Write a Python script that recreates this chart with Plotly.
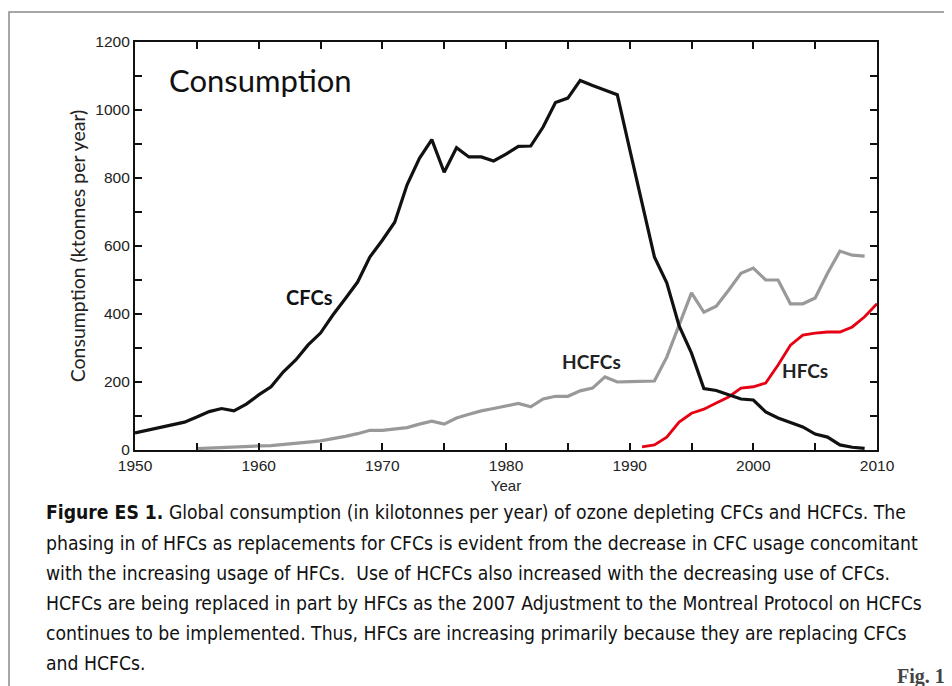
import plotly.graph_objects as go

cfc_years = list(range(1950, 2010))
cfc_values = [
    50, 58, 65, 75, 82, 97, 113, 122, 115, 135,
    162, 186, 230, 265, 309, 344, 397, 445, 494, 568,
    617, 670, 780, 858, 913, 817, 889, 862, 862, 850,
    870, 893, 894, 950, 1022, 1035, 1087, 1072, 1058, 1045,
    885, 725, 568, 492, 365, 285, 181, 175, 162, 150,
    147, 112, 94, 80, 68, 47, 38, 15, 8, 5,
]

hcfc_years = list(range(1955, 2010))
hcfc_values = [
    4, 6, 7, 8, 11,
    12, 13, 16, 18, 23, 27, 33, 40, 48, 58,
    58, 62, 66, 76, 85, 76, 94, 105, 115, 122,
    129, 137, 127, 150, 158, 158, 174, 182, 215, 200,
    201, 202, 203, 273, 365, 462, 405, 423, 470, 520,
    535, 500, 500, 430, 430, 447, 520, 585, 573, 570,
]

hfc_years = list(range(1991, 2011))
hfc_values = [
    9, 15, 38, 82, 108, 120, 138, 156, 182, 186,
    197, 250, 308, 338, 344, 347, 347, 362, 392, 430,
]

caption_lines = [
    "<b>Figure ES 1.</b> Global consumption (in kilotonnes per year) of ozone depleting CFCs and HCFCs. The",
    "phasing in of HFCs as replacements for CFCs is evident from the decrease in CFC usage concomitant",
    "with the increasing usage of HFCs.  Use of HCFCs also increased with the decreasing use of CFCs.",
    "HCFCs are being replaced in part by HFCs as the 2007 Adjustment to the Montreal Protocol on HCFCs",
    "continues to be implemented. Thus, HFCs are increasing primarily because they are replacing CFCs",
    "and HCFCs.",
]

NARROW = "Liberation Sans Narrow, Arial Narrow, DejaVu Sans Condensed, sans-serif"
TICKS = "Liberation Sans, Arial, sans-serif"
ROUND = "Lato, Open Sans, sans-serif"

# page puts the figure at (8, 8); reference plot area is x 135..877, y 42..450
OFF = 8
L, R, T, B = 135, 877, 42, 450
W, H = 952 - OFF, 686 - OFF


def px(x):
    return (x - L) / (R - L)


def py(y):
    return (B - y) / (B - T)


fig = go.Figure()
fig.add_trace(go.Scatter(x=hcfc_years, y=hcfc_values, mode="lines",
                         line=dict(color="#999999", width=3.2)))
fig.add_trace(go.Scatter(x=hfc_years, y=hfc_values, mode="lines",
                         line=dict(color="#e60012", width=2.8)))
fig.add_trace(go.Scatter(x=cfc_years, y=cfc_values, mode="lines",
                         line=dict(color="#111111", width=3.2)))

axis_common = dict(
    showline=True, linecolor="#111111", linewidth=2.2, mirror="ticks",
    ticks="inside", ticklen=7, tickwidth=1.5, tickcolor="#111111",
    showgrid=False, zeroline=False,
    tickfont=dict(family=TICKS, size=15.5, color="#222222"),
)

fig.update_xaxes(range=[1950, 2010], dtick=10, tick0=1950,
                 minor=dict(ticks="inside", dtick=5, ticklen=7, tickwidth=1.5,
                            tickcolor="#111111"),
                 title=dict(text="Year", font=dict(family=TICKS, size=15, color="#222222"),
                            standoff=8),
                 **axis_common)
fig.update_yaxes(range=[0, 1200], dtick=200, tick0=0,
                 minor=dict(ticks="inside", dtick=100, ticklen=7, tickwidth=1.5,
                            tickcolor="#111111"),
                 title=dict(text="Consumption (ktonnes per year)",
                            font=dict(family=ROUND, size=19.5, color="#222222"),
                            standoff=4),
                 **axis_common)

annotations = [
    dict(x=px(167), y=py(80), xref="paper", yref="paper", text="Consumption",
         showarrow=False, xanchor="left", yanchor="middle",
         font=dict(family=ROUND, size=31, color="#111111")),
    dict(x=1964.1, y=450, text="<b>CFCs</b>", showarrow=False,
         font=dict(family=ROUND, size=20, color="#111111")),
    dict(x=1986.9, y=259, text="<b>HCFCs</b>", showarrow=False,
         font=dict(family=ROUND, size=19, color="#222222")),
    dict(x=2004.2, y=235, text="<b>HFCs</b>", showarrow=False,
         font=dict(family=ROUND, size=19, color="#222222")),
    dict(x=px(947), y=py(676), xref="paper", yref="paper", text="<b>Fig. 1</b>",
         showarrow=False, xanchor="right", yanchor="middle",
         font=dict(family="Liberation Serif, serif", size=20, color="#444444")),
]
for i, line in enumerate(caption_lines):
    annotations.append(dict(
        x=px(44), y=py(513 + 30 * i), xref="paper", yref="paper", text=line,
        showarrow=False, xanchor="left", yanchor="middle",
        font=dict(family=NARROW, size=19.2, color="#111111")))

fig.update_layout(
    width=W, height=H,
    margin=dict(l=L - OFF, r=952 - R, t=T - OFF, b=686 - B),
    plot_bgcolor="white", paper_bgcolor="white",
    showlegend=False,
    annotations=annotations,
    shapes=[dict(type="path", xref="paper", yref="paper",
                 path=f"M {px(9)},{py(690)} L {px(9)},{py(12)} L {px(960)},{py(12)}",
                 line=dict(color="#8a8a8a", width=1.5))],
)

fig.write_html("out.html")
